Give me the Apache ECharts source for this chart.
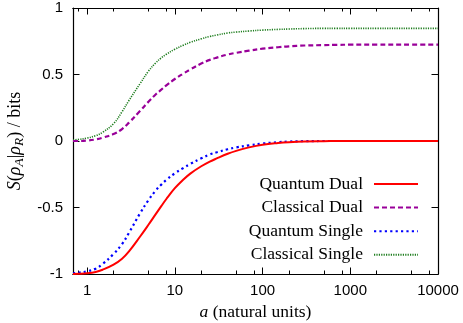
<!DOCTYPE html>
<html>
<head>
<meta charset="utf-8">
<script src="https://cdn.jsdelivr.net/npm/echarts@6/dist/echarts.min.js"></script>
<style>
html,body{margin:0;padding:0;background:#fff;}
#chart{width:463px;height:323px;}
</style>
</head>
<body>
<div id="chart"></div>
<script>
// a (natural units)
const aValues = [0.69, 0.8, 1, 1.25, 1.5, 2, 2.5, 3, 4, 5, 6, 7, 8, 10, 12.5, 15, 20, 25, 30, 40, 50, 70, 100, 150, 200, 300, 500, 700, 1000, 2000, 5000, 10000];
const quantumDual    = [-1.0, -0.999, -0.995, -0.985, -0.968, -0.93, -0.885, -0.83, -0.72, -0.63, -0.554, -0.49, -0.436, -0.355, -0.29, -0.245, -0.19, -0.155, -0.131, -0.096, -0.074, -0.048, -0.028, -0.015, -0.009, -0.004, -0.0015, -0.0005, 0, 0, 0, 0];
const classicalDual  = [0, 0, 0.003, 0.012, 0.025, 0.052, 0.09, 0.138, 0.225, 0.295, 0.348, 0.386, 0.418, 0.466, 0.507, 0.538, 0.582, 0.61, 0.627, 0.65, 0.663, 0.679, 0.694, 0.705, 0.712, 0.718, 0.721, 0.723, 0.724, 0.724, 0.724, 0.724];
const quantumSingle  = [-0.995, -0.99, -0.98, -0.96, -0.925, -0.85, -0.775, -0.69, -0.545, -0.445, -0.375, -0.328, -0.293, -0.243, -0.203, -0.172, -0.13, -0.102, -0.085, -0.062, -0.048, -0.033, -0.019, -0.009, -0.004, -0.0015, 0, 0, 0, 0, 0, 0];
const classicalSingle= [0.008, 0.012, 0.022, 0.04, 0.065, 0.13, 0.22, 0.305, 0.43, 0.525, 0.585, 0.625, 0.652, 0.69, 0.72, 0.742, 0.768, 0.786, 0.797, 0.812, 0.819, 0.827, 0.834, 0.839, 0.842, 0.845, 0.847, 0.847, 0.847, 0.847, 0.847, 0.847];
const seriesNames = ['Quantum Dual', 'Classical Dual', 'Quantum Single', 'Classical Single'];
const xMajorTicks = [1, 10, 100, 1000, 10000];
const xMinorTicks = [0.8, 2, 5, 8, 20, 50, 80, 200, 500, 800, 2000, 5000, 8000];
const yTicks = [-1, -0.5, 0, 0.5, 1];

const X_MIN = 0.69, X_MAX = 10000;
const SANS = 'Liberation Sans', SERIF = 'Liberation Serif';

function pairs(vals) { return aValues.map((a, i) => [a, vals[i]]); }

function xAxisDef(pos, ticks, len, withLabels) {
  return {
    type: 'log', logBase: 10, min: X_MIN, max: X_MAX, position: pos,
    axisLine: { show: true, onZero: false, lineStyle: { color: '#000', width: 1.2 } },
    axisTick: { show: true, inside: true, length: len, customValues: ticks, lineStyle: { color: '#000', width: 1 } },
    axisLabel: withLabels ? {
      show: true, customValues: xMajorTicks, margin: 9,
      fontFamily: SANS, fontSize: 15, color: '#000',
      formatter: v => String(Math.round(v))
    } : { show: false },
    splitLine: { show: false }, minorTick: { show: false }
  };
}
function yAxisDef(pos, withLabels) {
  return {
    type: 'value', min: yTicks[0], max: yTicks[yTicks.length - 1], interval: 0.5, position: pos,
    axisLine: { show: true, onZero: false, lineStyle: { color: '#000', width: 1.2 } },
    axisTick: { show: true, inside: true, length: 6.5, lineStyle: { color: '#000', width: 1 } },
    axisLabel: withLabels ? { show: true, margin: 10, fontFamily: SANS, fontSize: 15, color: '#000' } : { show: false },
    splitLine: { show: false }
  };
}

const xAxes = [
  xAxisDef('bottom', xMajorTicks, 6.5, true),
  xAxisDef('bottom', xMinorTicks, 3.5, false),
  xAxisDef('top', xMajorTicks, 6.5, false),
  xAxisDef('top', xMinorTicks, 3.5, false)
];
xAxes[0].name = '{it|a} (natural units)';
xAxes[0].nameLocation = 'middle';
xAxes[0].nameGap = 29;
xAxes[0].nameTextStyle = { fontFamily: SERIF, fontSize: 17.5, color: '#000', rich: { it: { fontFamily: SERIF, fontStyle: 'italic', fontSize: 17.5, color: '#000' } } };

const yAxes = [yAxisDef('left', true), yAxisDef('right', false)];
yAxes[0].name = '{it|S}({it|ρ}{sub|A}|{it|ρ}{sub|R}) / bits';
yAxes[0].nameLocation = 'middle';
yAxes[0].nameGap = 41;
yAxes[0].nameTextStyle = {
  fontFamily: SERIF, fontSize: 18, color: '#000',
  rich: {
    it: { fontFamily: SERIF, fontStyle: 'italic', fontSize: 18, color: '#000' },
    sub: { fontFamily: SERIF, fontStyle: 'italic', fontSize: 13.5, color: '#000', padding: [8, 0, 0, 0] }
  }
};

const styles = [
  { color: '#ff0000', width: 2, type: 'solid' },
  { color: '#990099', width: 2.2, type: [5, 3] },
  { color: '#0000ff', width: 2.2, type: [2.2, 3.2] },
  { color: '#1e7d1e', width: 1.6, type: [1.2, 1.2] }
];
const dataSets = [quantumDual, classicalDual, quantumSingle, classicalSingle];

const chart = echarts.init(document.getElementById('chart'), null, { renderer: 'canvas' });
chart.setOption({
  animation: false,
  backgroundColor: '#fff',
  grid: { left: 73, right: 25, top: 8, bottom: 49, containLabel: false, outerBoundsMode: 'none' },
  xAxis: xAxes,
  yAxis: yAxes,
  legend: {
    show: true, orient: 'vertical', right: 44, top: 175, align: 'right', padding: 0,
    itemWidth: 44, itemHeight: 14, itemGap: 5.6,
    itemStyle: { opacity: 0 },
    textStyle: { fontFamily: SERIF, fontSize: 17.5, color: '#000', padding: [0, 6, 0, 0] },
    data: seriesNames
  },
  series: dataSets.map((d, i) => ({
    name: seriesNames[i], type: 'line', data: pairs(d), xAxisIndex: 0, yAxisIndex: 0,
    showSymbol: false, symbol: 'none', smooth: 0.4,
    color: styles[i].color,
    lineStyle: { color: styles[i].color, width: styles[i].width, type: styles[i].type, cap: 'butt' },
    z: 10 - i
  }))
});
</script>
</body>
</html>
